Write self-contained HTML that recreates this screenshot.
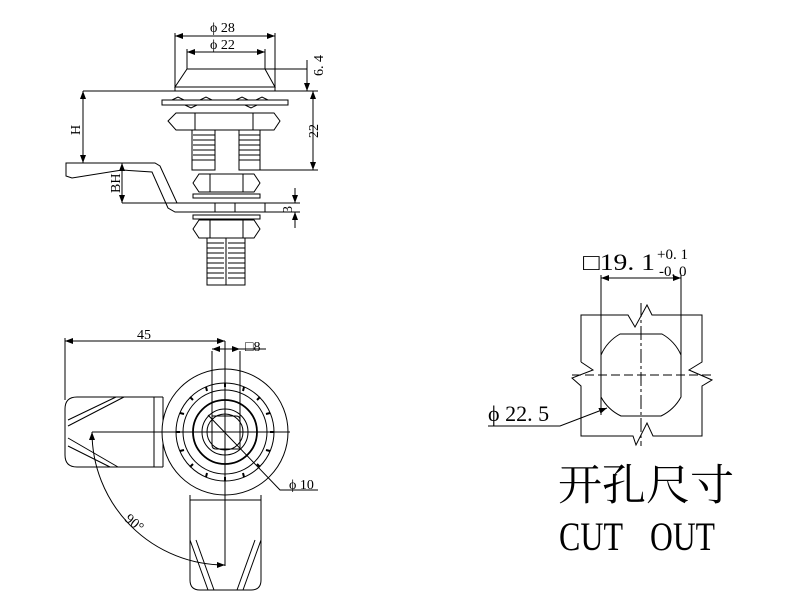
<!DOCTYPE html>
<html><head><meta charset="utf-8"><style>html,body{margin:0;padding:0;background:#fff}svg{display:block}</style></head>
<body>
<svg width="804" height="605" viewBox="0 0 804 605" xmlns="http://www.w3.org/2000/svg" font-family="'Liberation Serif','Noto Serif CJK SC',serif">
<defs>
<marker id="a" markerWidth="8" markerHeight="6" refX="8" refY="3" orient="auto-start-reverse" markerUnits="userSpaceOnUse"><path d="M0,0L8,3L0,6z" fill="#000"/></marker>
</defs>
<g stroke="#000" stroke-width="1" fill="none">
<line x1="175" y1="36" x2="275" y2="36" marker-start="url(#a)" marker-end="url(#a)"/>
<line x1="187" y1="52" x2="265" y2="52" marker-start="url(#a)" marker-end="url(#a)"/>
<line x1="175" y1="33" x2="175" y2="87"/><line x1="275" y1="33" x2="275" y2="87"/>
<line x1="187" y1="49" x2="187" y2="69"/><line x1="265" y1="49" x2="265" y2="69"/>
<path d="M187,69 L265,69 L275,87 L175,87 Z"/>
<rect x="175" y="87" width="100" height="4"/>
<line x1="265" y1="69" x2="307" y2="69"/>
<line x1="307" y1="60" x2="307" y2="91" marker-end="url(#a)"/>
<line x1="83" y1="91" x2="318" y2="91"/>
<line x1="83" y1="91" x2="83" y2="163" marker-start="url(#a)" marker-end="url(#a)"/>
<rect x="162" y="100" width="126" height="5"/>
<path d="M172,100l6,-3l6,3 M200,100l6,-3l6,3 M236,100l6,-3l6,3 M256,100l6,-3l6,3 M185,105l6,3l6,-3 M245,105l6,3l6,-3"/>
<path d="M176,113 L274,113 L280,121 L274,130 L176,130 L168,121 Z"/>
<line x1="195" y1="113" x2="195" y2="130"/><line x1="253" y1="113" x2="253" y2="130"/>
<path d="M192,130 V170 H215 V160 M239,160 V170 H260 V130"/>
<path d="M192,160 H215 V130 M239,130 V160 H260"/>
<path d="M193,135 h22 M193,140 h22 M193,145 h22 M193,150 h22 M193,155 h22 M239,135 h21 M239,140 h21 M239,145 h21 M239,150 h21 M239,155 h21"/>
<line x1="313" y1="91" x2="313" y2="170" marker-start="url(#a)" marker-end="url(#a)"/>
<line x1="260" y1="170" x2="318" y2="170"/>
<path d="M66,163 L122,163 L155,163 L160,166 L177,203 L265,203 L265,212 L175,212 L168,208 L152,172 L122,170 L72,178 L66,176 Z"/>
<line x1="122" y1="163" x2="122" y2="203" marker-start="url(#a)" marker-end="url(#a)"/>
<line x1="122" y1="203" x2="177" y2="203"/>
<path d="M199,174 L254,174 L260,183 L254,192 L199,192 L193,183 Z"/>
<line x1="210" y1="174" x2="210" y2="192"/><line x1="243" y1="174" x2="243" y2="192"/>
<rect x="193" y="194" width="67" height="4"/>
<line x1="215" y1="203" x2="215" y2="212"/><line x1="235" y1="203" x2="235" y2="212"/>
<line x1="295" y1="188" x2="295" y2="203" marker-end="url(#a)"/>
<line x1="295" y1="212" x2="295" y2="228" marker-start="url(#a)"/>
<line x1="265" y1="203" x2="300" y2="203"/><line x1="265" y1="212" x2="300" y2="212"/>
<rect x="193" y="215" width="67" height="4"/>
<path d="M199,220 L254,220 L260,229 L254,238 L199,238 L193,229 Z"/>
<line x1="210" y1="220" x2="210" y2="238"/><line x1="243" y1="220" x2="243" y2="238"/>
<path d="M207,238 V285 H245 V238 M226,238 V285"/>
<path d="M207,243h17 M207,248h17 M207,253h17 M207,258h17 M207,263h17 M207,268h17 M207,273h17 M207,278h17 M228,243h17 M228,248h17 M228,253h17 M228,258h17 M228,263h17 M228,268h17 M228,273h17 M228,278h17"/>

<line x1="65" y1="341" x2="225" y2="341" marker-start="url(#a)" marker-end="url(#a)"/>
<line x1="65" y1="338" x2="65" y2="400"/>
<path d="M163,397 H77 Q65,397 65,409 V455 Q65,467 77,467 H163"/>
<line x1="154" y1="397" x2="154" y2="467"/><line x1="163" y1="397" x2="163" y2="467"/>
<path d="M68,420 L116,397 M68,426 L124,397 M68,446 L110,467 M68,438 L118,467"/>
<path d="M190,495 V580 Q190,590 200,590 H251 Q261,590 261,580 V495"/>
<line x1="190" y1="500" x2="261" y2="500"/>
<path d="M190,540 L208,590 M196,540 L214,590 M261,540 L243,590 M255,540 L237,590"/>
<circle cx="225" cy="432" r="63" fill="#fff"/>
<circle cx="225" cy="432" r="49"/>
<circle cx="225" cy="432" r="42"/>
<circle cx="225" cy="432" r="32" stroke-width="1.8"/>
<circle cx="225" cy="432" r="23"/>
<circle cx="225" cy="432" r="18"/>
<g stroke-width="2">
<path d="M225,383v4 M225,477v4 M176,432h4 M270,432h4 M260,397l-3,3 M190,397l3,3 M260,467l-3,-3 M190,467l3,-3 M244,387l-1,4 M206,387l1,4 M244,477l-1,-4 M206,477l1,-4 M180,413l4,1 M270,413l-4,1 M180,451l4,-1 M270,451l-4,-1"/>
</g>
<path d="M212,351 V445 Q212,449 216,449 H240 V420 Q240,416 236,416 H212"/>
<line x1="240" y1="351" x2="240" y2="420"/>
<line x1="212" y1="349" x2="240" y2="349" marker-start="url(#a)" marker-end="url(#a)"/>
<line x1="240" y1="349" x2="266" y2="349"/>
<line x1="92" y1="432" x2="290" y2="432"/>
<line x1="225" y1="341" x2="225" y2="566"/>
<path d="M208,415 L280,490 H318"/>
<path d="M92,432 A133,133 0 0 0 225,565" marker-start="url(#a)" marker-end="url(#a)"/>

<line x1="601" y1="278" x2="681" y2="278" marker-start="url(#a)" marker-end="url(#a)"/>
<line x1="601" y1="275" x2="601" y2="415"/><line x1="681" y1="275" x2="681" y2="375"/>
<path d="M581,362 V315 H628 L635,327 L647,305 L652,315 H702 V362 L689,370 L712,380 L702,386 V436 H653 L647,423 L636,445 L633,436 H581 V386 L572,378 L593,370 L581,362"/>
<path d="M620,334 H662 A45,45 0 0 1 681,355 V397 A45,45 0 0 1 661,416 H621 A45,45 0 0 1 601,397 V355 A45,45 0 0 1 620,334 Z"/>
<line x1="572" y1="375" x2="712" y2="375" stroke-dasharray="9,4"/>
<line x1="641" y1="303" x2="641" y2="446" stroke-dasharray="14,3,3,3"/>
<path d="M488,426 H560 L607,408" marker-end="url(#a)"/>
</g>
<g fill="#000" font-size="14">
<text x="210" y="32">ϕ 28</text>
<text x="210" y="49">ϕ 22</text>
<text transform="translate(323,76) rotate(-90)">6. 4</text>
<text transform="translate(80,135) rotate(-90)">H</text>
<text transform="translate(318,138) rotate(-90)">22</text>
<text transform="translate(120,193) rotate(-90)">BH</text>
<text transform="translate(292,213) rotate(-90)">3</text>
<text x="137" y="339">45</text>
<text x="245" y="351">□8</text>
<text x="289" y="489">ϕ 10</text>
<text transform="translate(124,520) rotate(40)">90°</text>
<text x="583" y="270" font-size="23" textLength="72" lengthAdjust="spacingAndGlyphs">□19. 1</text>
<text x="657" y="259" font-size="15">+0. 1</text>
<text x="659" y="276" font-size="15">-0. 0</text>
<text x="488" y="421" font-size="22">ϕ 22. 5</text>
<text x="558" y="500" font-size="43" textLength="176" lengthAdjust="spacingAndGlyphs">开孔尺寸</text>
<text x="559" y="550" font-size="40" textLength="64" lengthAdjust="spacingAndGlyphs">CUT</text>
<text x="650" y="550" font-size="40" textLength="65" lengthAdjust="spacingAndGlyphs">OUT</text>
</g>
</svg>
</body></html>
